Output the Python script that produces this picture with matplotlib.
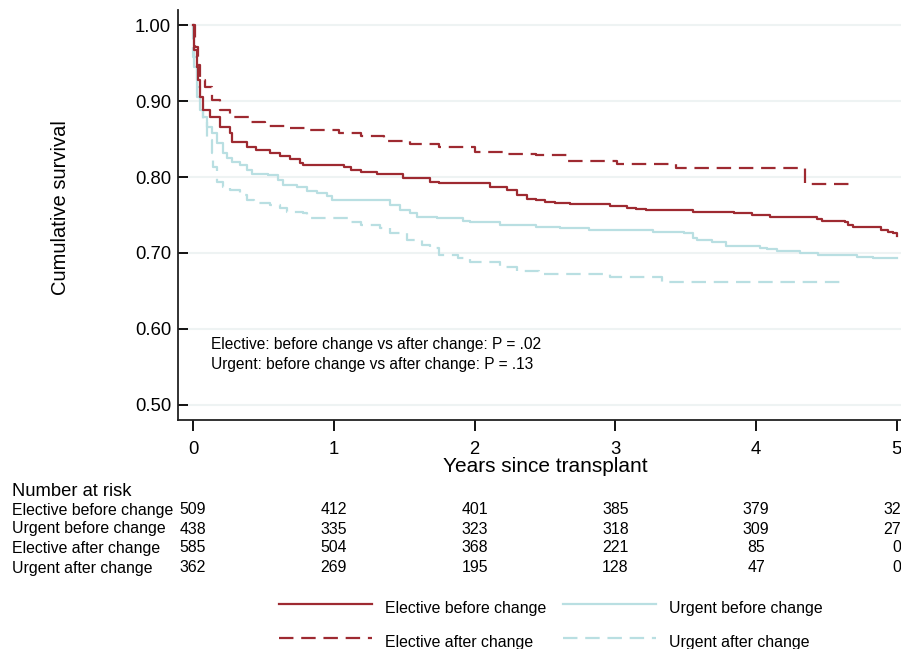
import matplotlib
matplotlib.use("Agg")
import matplotlib.pyplot as plt
from matplotlib.lines import Line2D
from matplotlib.transforms import blended_transform_factory

plt.rcParams['font.family'] = ['Liberation Sans', 'DejaVu Sans']

# ---- survival curves (years, cumulative survival) ----
eb_t = [0, 0.01, 0.025, 0.036, 0.05, 0.071, 0.12, 0.19, 0.26, 0.28, 0.38, 0.45, 0.55, 0.62,
        0.69, 0.76, 0.78, 1.07, 1.12, 1.19, 1.31, 1.49, 1.68, 1.75, 2.11, 2.23, 2.30, 2.37,
        2.44, 2.50, 2.57, 2.68, 2.96, 3.08, 3.15, 3.22, 3.55, 3.84, 3.97, 4.10, 4.43, 4.47,
        4.63, 4.65, 4.69, 4.89, 4.94, 4.97, 5.0]
eb_s = [1.0, 0.967, 0.945, 0.928, 0.905, 0.888, 0.879, 0.866, 0.858, 0.846, 0.839, 0.836,
        0.832, 0.828, 0.824, 0.818, 0.816, 0.813, 0.809, 0.807, 0.804, 0.799, 0.794, 0.792,
        0.787, 0.783, 0.776, 0.771, 0.770, 0.767, 0.766, 0.764, 0.762, 0.759, 0.758, 0.756,
        0.754, 0.753, 0.750, 0.747, 0.745, 0.742, 0.741, 0.737, 0.734, 0.730, 0.728, 0.726,
        0.722]

ea_t = [0, 0.014, 0.036, 0.05, 0.085, 0.135, 0.19, 0.26, 0.40, 0.51, 0.69, 0.83, 1.04, 1.19,
        1.36, 1.54, 1.75, 2.0, 2.22, 2.44, 2.66, 3.01, 3.43, 4.35, 4.68]
ea_s = [1.0, 0.971, 0.947, 0.928, 0.918, 0.901, 0.888, 0.879, 0.872, 0.867, 0.864, 0.862,
        0.858, 0.854, 0.847, 0.843, 0.839, 0.833, 0.830, 0.829, 0.821, 0.817, 0.812, 0.791,
        0.791]

ub_t = [0, 0.005, 0.028, 0.05, 0.071, 0.10, 0.135, 0.17, 0.21, 0.24, 0.28, 0.33, 0.38, 0.42,
        0.53, 0.60, 0.64, 0.74, 0.81, 0.88, 0.95, 0.99, 1.40, 1.47, 1.54, 1.59, 1.73, 1.92,
        1.97, 2.18, 2.44, 2.61, 2.81, 3.27, 3.49, 3.55, 3.58, 3.69, 3.79, 4.03, 4.08, 4.15,
        4.31, 4.44, 4.72, 4.83, 5.0]
ub_s = [1.0, 0.945, 0.905, 0.888, 0.879, 0.866, 0.858, 0.845, 0.832, 0.825, 0.820, 0.816,
        0.809, 0.804, 0.803, 0.796, 0.789, 0.787, 0.782, 0.779, 0.775, 0.770, 0.763, 0.757,
        0.753, 0.747, 0.746, 0.742, 0.741, 0.737, 0.734, 0.733, 0.730, 0.728, 0.726, 0.720,
        0.717, 0.714, 0.709, 0.707, 0.705, 0.703, 0.700, 0.697, 0.695, 0.693, 0.693]

ua_t = [0, 0.003, 0.028, 0.05, 0.071, 0.10, 0.135, 0.142, 0.17, 0.21, 0.26, 0.33, 0.38, 0.43,
        0.55, 0.62, 0.67, 0.78, 0.81, 1.12, 1.19, 1.33, 1.40, 1.52, 1.63, 1.68, 1.75, 1.88,
        1.97, 2.18, 2.30, 2.46, 2.96, 3.33, 4.63]
ua_s = [1.0, 0.958, 0.918, 0.897, 0.875, 0.849, 0.832, 0.813, 0.793, 0.787, 0.783, 0.776,
        0.770, 0.766, 0.763, 0.759, 0.754, 0.753, 0.746, 0.741, 0.737, 0.733, 0.726, 0.717,
        0.711, 0.707, 0.697, 0.693, 0.688, 0.682, 0.676, 0.672, 0.668, 0.662, 0.662]

# ---- number at risk table ----
risk_times = [0, 1, 2, 3, 4, 5]
risk_labels = ["Elective before change", "Urgent before change",
               "Elective after change", "Urgent after change"]
risk_eb = [509, 412, 401, 385, 379, 32]
risk_ub = [438, 335, 323, 318, 309, 27]
risk_ea = [585, 504, 368, 221, 85, 0]
risk_ua = [362, 269, 195, 128, 47, 0]

y_ticks = [0.50, 0.60, 0.70, 0.80, 0.90, 1.00]
x_ticks = [0, 1, 2, 3, 4, 5]
p_notes = ["Elective: before change vs after change: P = .02",
           "Urgent: before change vs after change: P = .13"]

RED = "#9e2a31"
BLUE = "#b9dfe2"
DASH = (6.5, 3.5)

W, H = 901, 649
fig = plt.figure(figsize=(W / 100, H / 100), dpi=100)
ax = fig.add_axes([178 / W, 1 - 420 / H, (W - 178) / W, 410 / H])

ax.step(ub_t, ub_s, where='post', color=BLUE, lw=1.6)
ax.step(ua_t, ua_s, where='post', color=BLUE, lw=1.6, dashes=DASH)
ax.step(eb_t, eb_s, where='post', color=RED, lw=1.6)
ax.step(ea_t, ea_s, where='post', color=RED, lw=1.6, dashes=DASH)

x_max = 5.03
ax.set_xlim(-0.107, x_max)
ax.set_ylim(0.48, 1.02)
ax.set_yticks(y_ticks)
ax.set_yticklabels([f"{v:.2f}" for v in y_ticks])
ax.set_xticks(x_ticks)
ax.yaxis.grid(True, color="#eef3f3", lw=1.5)
ax.set_axisbelow(True)
for side in ("top", "right"):
    ax.spines[side].set_visible(False)
for side in ("left", "bottom"):
    ax.spines[side].set_linewidth(1.3)
    ax.spines[side].set_color("#222222")
ax.tick_params(axis='y', direction='in', length=7, width=1.3, pad=5, labelsize=13.3)
ax.tick_params(axis='x', direction='out', length=8, width=1.3, pad=7, labelsize=13.3)

fig.text(60 / W, 1 - 208 / H, "Cumulative survival", rotation=90,
         ha='center', va='center', fontsize=14.5)
fig.text(545 / W, 1 - 466 / H, "Years since transplant", ha='center', va='center', fontsize=15)

for i, note in enumerate(p_notes):
    ax.text(0.128, 0.579 - i * 0.026, note, ha='left', va='center', fontsize=11.2)

# number at risk
tr = blended_transform_factory(ax.transData, fig.transFigure)
fig.text(12 / W, 1 - 492 / H, "Number at risk", ha='left', va='center', fontsize=13.2)
row_y = [510, 529, 548, 568]
for lab, vals, yy in zip(risk_labels, [risk_eb, risk_ub, risk_ea, risk_ua], row_y):
    fig.text(12 / W, 1 - yy / H, lab, ha='left', va='center', fontsize=11.4)
    for t, v in zip(risk_times, vals):
        if t == risk_times[-1]:
            # last column sits against the right edge of the figure
            fig.text(x_max, 1 - yy / H, str(v), transform=tr, ha='right', va='center',
                     fontsize=11.4)
        else:
            fig.text(t, 1 - yy / H, str(v), transform=tr, ha='center', va='center',
                     fontsize=11.4)

# legend (two columns, drawn in figure pixels)
leg = [("Elective before change", RED, None, 279, 604),
       ("Elective after change", RED, DASH, 279, 638),
       ("Urgent before change", BLUE, None, 563, 604),
       ("Urgent after change", BLUE, DASH, 563, 638)]
for lab, col, dsh, x0, yy in leg:
    ln = Line2D([x0 / W, (x0 + 93) / W], [1 - yy / H, 1 - yy / H], transform=fig.transFigure,
                color=col, lw=1.6)
    if dsh:
        ln.set_dashes(dsh)
    fig.add_artist(ln)
    fig.text((x0 + 106) / W, 1 - (yy + 4) / H, lab, ha='left', va='center', fontsize=11.4)

fig.savefig("out.png", dpi=100)
